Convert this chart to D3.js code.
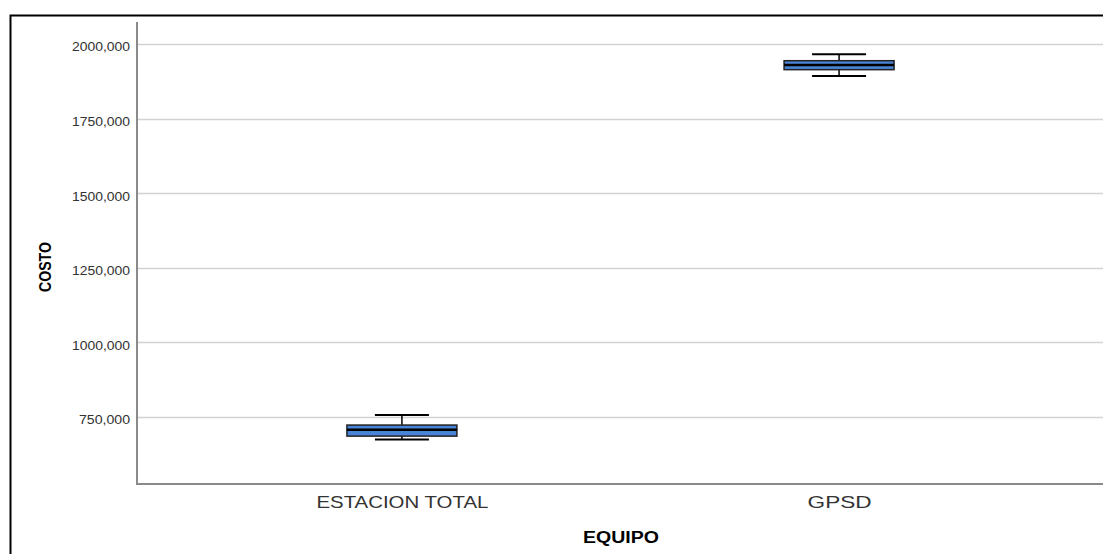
<!DOCTYPE html>
<html><head><meta charset="utf-8">
<script src="https://cdn.jsdelivr.net/npm/d3@7"></script>
<style>body{margin:0;background:#fff}svg{display:block}</style>
</head><body>
<svg id="c" width="1103" height="554"></svg>
<script>
const categories = ["ESTACION TOTAL", "GPSD"];
const whiskerLow  = [675, 1893];
const q1          = [686, 1914];
const median      = [707, 1930];
const q3          = [723, 1944];
const whiskerHigh = [757, 1966];
const yTicks = [750, 1000, 1250, 1500, 1750, 2000];
const yTickLabels = ["750,000", "1000,000", "1250,000", "1500,000", "1750,000", "2000,000"];

const svg = d3.select("#c");
const FONT = "Liberation Sans, Arial, sans-serif";
// outer frame
svg.append("path").attr("d","M10.5,560 L10.5,15.5 L1110,15.5").attr("fill","none").attr("stroke","#000").attr("stroke-width",2);

const pLeft = 137, pRight = 1104, pTop = 22, pBottom = 484;
const y = d3.scaleLinear().domain([525.5, 2073.7]).range([pBottom, pTop]);
const x = d3.scalePoint().domain(categories).range([pLeft, pRight]).padding(0.606);

// gridlines
svg.append("g").selectAll("line").data(yTicks).join("line")
  .attr("x1", pLeft).attr("x2", 1103)
  .attr("y1", d => Math.round(y(d)) + 0.5).attr("y2", d => Math.round(y(d)) + 0.5)
  .attr("stroke", "#d2d2d2").attr("stroke-width", 1.5);

// y axis
const yAxis = d3.axisLeft(y).tickValues(yTicks).tickFormat((d,i) => yTickLabels[i]).tickSize(0).tickPadding(7);
const gy = svg.append("g").attr("transform", `translate(${pLeft},0)`).call(yAxis);
gy.select(".domain").remove();
gy.selectAll("text").attr("font-family",FONT).attr("font-size", 12.5).attr("fill","#333")
  .attr("dy","0.55em")
  .attr("textLength", (d,i) => yTickLabels[i].length === 8 ? 58 : 51)
  .attr("lengthAdjust","spacingAndGlyphs");

// x axis
const xAxis = d3.axisBottom(x).tickSize(0).tickPadding(12);
const gx = svg.append("g").attr("transform", `translate(0,${pBottom})`).call(xAxis);
gx.select(".domain").remove();
gx.selectAll("text").attr("font-family",FONT).attr("font-size", 17).attr("fill","#333")
  .attr("textLength", d => d === "GPSD" ? 64 : 172)
  .attr("lengthAdjust","spacingAndGlyphs");

// axis lines
svg.append("path").attr("d", `M${pLeft},${pTop} L${pLeft},${pBottom} L1103,${pBottom}`)
  .attr("fill","none").attr("stroke","#8a8a8a").attr("stroke-width",2);

// boxes
const boxW = 110, capW = 54;
const g = svg.append("g");
categories.forEach((c, i) => {
  const cx = x(c);
  g.append("line").attr("x1", cx).attr("x2", cx).attr("y1", y(whiskerHigh[i])).attr("y2", y(q3[i])).attr("stroke","#000").attr("stroke-width",1.5);
  g.append("line").attr("x1", cx).attr("x2", cx).attr("y1", y(q1[i])).attr("y2", y(whiskerLow[i])).attr("stroke","#000").attr("stroke-width",1.5);
  g.append("line").attr("x1", cx-capW/2).attr("x2", cx+capW/2).attr("y1", y(whiskerHigh[i])).attr("y2", y(whiskerHigh[i])).attr("stroke","#000").attr("stroke-width",2);
  g.append("line").attr("x1", cx-capW/2).attr("x2", cx+capW/2).attr("y1", y(whiskerLow[i])).attr("y2", y(whiskerLow[i])).attr("stroke","#000").attr("stroke-width",2);
  g.append("rect").attr("x", cx-boxW/2).attr("width", boxW).attr("y", y(q3[i])).attr("height", y(q1[i]) - y(q3[i]))
    .attr("fill","#4a84d6").attr("stroke","#222").attr("stroke-width",1.5);
  g.append("line").attr("x1", cx-boxW/2).attr("x2", cx+boxW/2).attr("y1", y(median[i])).attr("y2", y(median[i])).attr("stroke","#000").attr("stroke-width",2.5);
});

// titles
svg.append("text").attr("x", 621).attr("y", 543).attr("text-anchor","middle")
  .attr("font-family",FONT).attr("font-weight","bold").attr("font-size",16).attr("fill","#000")
  .attr("textLength",76).attr("lengthAdjust","spacingAndGlyphs").text("EQUIPO");
svg.append("text").attr("transform","translate(51,267) rotate(-90)").attr("text-anchor","middle")
  .attr("font-family",FONT).attr("font-weight","bold").attr("font-size",16).attr("fill","#000")
  .attr("textLength",50).attr("lengthAdjust","spacingAndGlyphs").text("COSTO");
</script>
</body></html>
